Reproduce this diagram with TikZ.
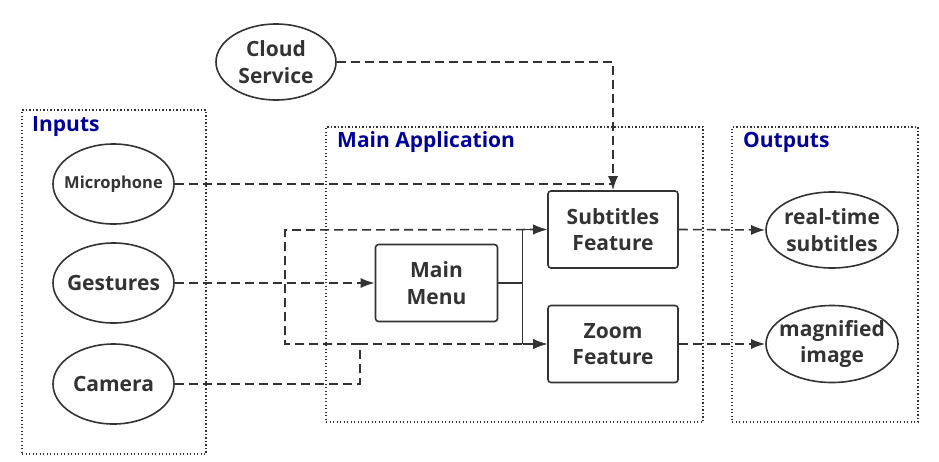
\documentclass[tikz,border=0pt]{standalone}
\usepackage{fontspec}
\setmainfont{Open Sans}
\usetikzlibrary{shapes.geometric,arrows.meta}
\definecolor{ink}{HTML}{333333}
\definecolor{ttl}{HTML}{000099}
\begin{document}
\begin{tikzpicture}[x=1pt,y=-1pt,
  every node/.style={text=ink, font=\bfseries\fontsize{21}{26.5}\selectfont, align=center},
  oval/.style={ellipse, draw=ink, line width=1.6pt, inner sep=-18pt},
  proc/.style={rectangle, rounded corners=3pt, draw=ink, line width=1.6pt, minimum width=130pt, minimum height=77pt, inner sep=0pt},
  grp/.style={rectangle, draw=ink, line width=1.4pt, dash pattern=on 1.4pt off 2.1pt, inner sep=0pt},
  grptitle/.style={text=ttl, anchor=base west, inner sep=0pt, font=\bfseries\fontsize{21}{24}\selectfont},
  dashline/.style={draw=ink, line width=1.6pt, dash pattern=on 9pt off 5pt},
  solidline/.style={draw=ink, line width=1.6pt},
  arr/.style={-{Latex[length=14pt,width=10pt]}},
]
\useasboundingbox (0,0) rectangle (939,461);

% groups
\node[grp, minimum width=184pt, minimum height=344pt] (ginp) at (114,282) {};
\node[grp, minimum width=377pt, minimum height=295pt] (gapp) at (514.5,274.5) {};
\node[grp, minimum width=186pt, minimum height=295pt] (gout) at (825,274.5) {};
\node[grptitle] (tinp) at (32,131) {Inputs};
\node[grptitle] (tapp) at (337,147) {Main Application};
\node[grptitle] (tout) at (743,147) {Outputs};

% nodes
\node[oval, minimum width=120pt, minimum height=76pt] (cloud) at (276,62) {Cloud\\Service};
\node[oval, minimum width=121pt, minimum height=80pt, font=\bfseries\fontsize{16.5}{19}\selectfont] (mic) at (113.5,184) {Microphone};
\node[oval, minimum width=121pt, minimum height=80pt] (gest) at (113.5,283) {Gestures};
\node[oval, minimum width=121pt, minimum height=80pt] (cam) at (113.5,384) {Camera};

\node[proc, minimum width=122pt] (menu) at (436.5,283) {Main\\Menu};
\node[proc] (subt) at (613,229.5) {Subtitles\\Feature};
\node[proc] (zoom) at (613,344) {Zoom\\Feature};

\node[oval, minimum width=132pt, minimum height=76pt] (rts) at (832,230) {real-time\\subtitles};
\node[oval, minimum width=132pt, minimum height=77pt] (mag) at (832,344) {magnified\\image};

% helper coordinates
\coordinate (bus) at (522.5,283);
\coordinate (cj) at (360,344);
\coordinate (lp) at (285,230);

% connectors
\draw[dashline,arr] (cloud.east) -| (subt.north);
\draw[dashline] (mic.east) -- (mic.east -| subt.north);
\draw[dashline,arr] (gest.east) -- (menu.west);
\draw[solidline] (menu.east) -- (bus);
\draw[solidline] (bus |- subt.west) -- (bus |- zoom.west);
\draw[solidline,arr] (bus |- subt.west) -- (subt.west);
\draw[solidline,arr] (bus |- zoom.west) -- (zoom.west);
\draw[dashline,arr] (cam.east) -| (cj) -- (zoom.west);
\draw[dashline,arr] (cj) -| (lp) -- (subt.west);
\draw[dashline,arr] (subt.east) -- (rts.west);
\draw[dashline,arr] (zoom.east) -- (mag.west);
\end{tikzpicture}
\end{document}
